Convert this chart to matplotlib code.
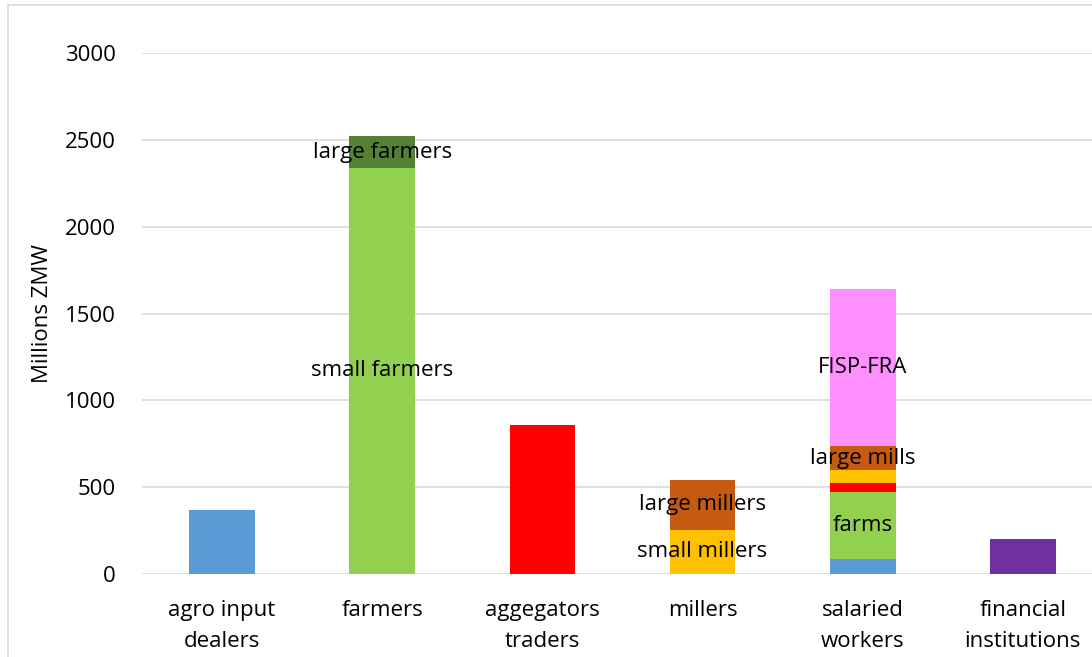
import matplotlib
matplotlib.use("Agg")
import matplotlib.pyplot as plt
from matplotlib.patches import Rectangle
import numpy as np

plt.rcParams['font.family'] = ['Open Sans', 'DejaVu Sans']

categories = ["agro input\ndealers", "farmers", "aggegators\ntraders", "millers",
              "salaried\nworkers", "financial\ninstitutions"]

# stacked segments, bottom to top (value per category)
input_vals  = [370, 0, 0, 0, 86, 0]
small_vals  = [0, 2340, 0, 0, 0, 0]      # small farmers
farms_vals  = [0, 0, 0, 0, 386, 0]       # farms (salaried)
large_farm  = [0, 180, 0, 0, 0, 0]
traders_v   = [0, 0, 860, 0, 52, 0]
small_mill  = [0, 0, 0, 255, 75, 0]
large_mill  = [0, 0, 0, 285, 138, 0]
fisp_fra    = [0, 0, 0, 0, 903, 0]
financial   = [0, 0, 0, 0, 0, 200]

series = [
    (input_vals, "#5B9BD5"),
    (small_vals, "#92D050"),
    (farms_vals, "#92D050"),
    (large_farm, "#548235"),
    (traders_v, "#FF0000"),
    (small_mill, "#FFC000"),
    (large_mill, "#C55A11"),
    (fisp_fra, "#FF8FFF"),
    (financial, "#7030A0"),
]

FS = 16

fig = plt.figure(figsize=(10.92, 6.57), dpi=100)
ax = fig.add_axes([0.130, 0.1263, 0.880, 0.7930])

x = np.arange(len(categories))
bottom = np.zeros(len(categories))
seg_bounds = {}
for idx, (vals, col) in enumerate(series):
    v = np.array(vals, dtype=float)
    ax.bar(x, v, bottom=bottom, width=0.41, color=col, zorder=2)
    seg_bounds[idx] = (bottom.copy(), v.copy())
    bottom = bottom + v

def label(series_idx, cat_idx, text):
    b, v = seg_bounds[series_idx]
    ax.text(x[cat_idx], b[cat_idx] + v[cat_idx] / 2, text, ha='center', va='center',
            fontsize=FS, color='black', zorder=3)

label(3, 1, "large farmers")
label(1, 1, "small farmers")
label(6, 3, "large millers")
label(5, 3, "small millers")
label(7, 4, "FISP-FRA")
label(6, 4, "large mills")
label(2, 4, "farms")

ax.set_xlim(-0.5, len(categories) - 0.5)
ax.set_ylim(0, 3000)
ax.set_yticks(range(0, 3001, 500))
ax.set_xticks(x)
ax.set_xticklabels(categories, fontsize=FS, linespacing=1.6)
ax.tick_params(axis='y', labelsize=FS, length=0, pad=19)
ax.tick_params(axis='x', length=0, pad=19)
ax.grid(axis='y', color='#D9D9D9', linewidth=1.2, zorder=0)
for s in ax.spines.values():
    s.set_visible(False)
ax.set_ylabel("Millions ZMW", fontsize=FS, labelpad=8)

fig.patches.append(Rectangle((8/1092, -0.1), 1.2, (657-5)/657 + 0.1, transform=fig.transFigure,
                             fill=False, edgecolor='#D9D9D9', linewidth=1.2))

fig.savefig("out.png", dpi=100)
